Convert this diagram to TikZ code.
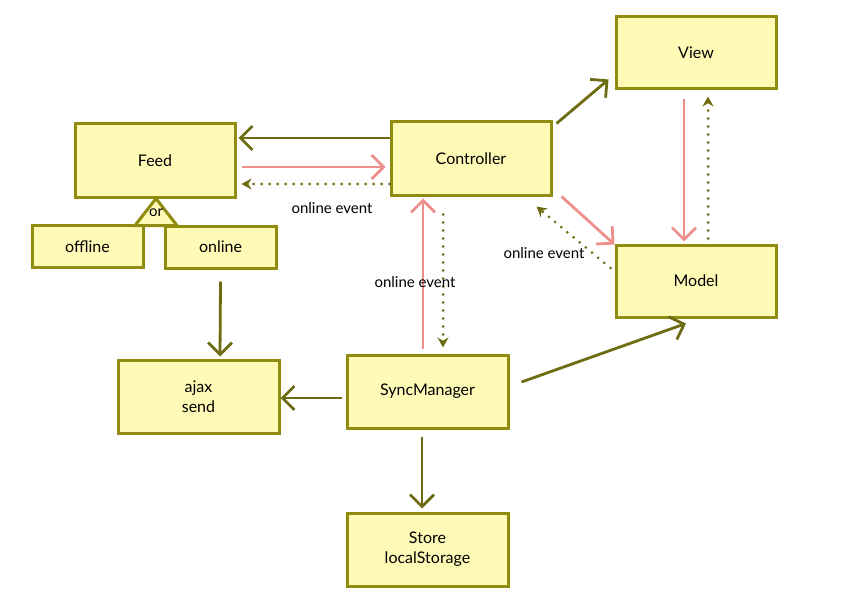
\documentclass[tikz,border=0pt]{standalone}
\usepackage{fontspec}
\setmainfont{Lato}
\usetikzlibrary{arrows.meta}
\definecolor{boxfill}{HTML}{FFFAB6}
\definecolor{boxline}{HTML}{8F8C10}
\definecolor{olivearr}{HTML}{6E6C12}
\definecolor{pinkarr}{HTML}{EE8F8C}
\begin{document}
\begin{tikzpicture}[x=1pt,y=-1pt,
  box/.style={draw=boxline, fill=boxfill, line width=3pt, minimum width=160pt, minimum height=73pt, font=\fontsize{16}{20}\selectfont, align=center, inner sep=0pt},
  smallbox/.style={box, minimum width=111pt, minimum height=42pt},
  solidarr/.style={draw=olivearr, line width=2.8pt, -{Straight Barb[length=12pt,width=24pt,line width=2.8pt]}},
  pinkline/.style={draw=pinkarr, line width=2.8pt, -{Straight Barb[length=12pt,width=24pt,line width=2.8pt]}},
  dotarr/.style={draw=olivearr, line width=3pt, line cap=round, dash pattern=on 0pt off 8pt, -{Stealth[length=10pt,width=11pt,line cap=butt]}},
  lbl/.style={font=\fontsize{15}{18}\selectfont, inner sep=1pt}
]
\useasboundingbox (0,0) rectangle (865,607);

\node[box] (feed) at (155,160.5) {Feed};
\node[smallbox] (offline) at (87.5,246.5) {offline};
\node[smallbox] (online) at (220.5,247) {online};
\node[box] (ctrl) at (471,158.5) {Controller};
\node[box, minimum height=72pt] (view) at (696,53) {View};
\node[box, minimum height=72pt] (model) at (696,281) {Model};
\node[box, minimum width=161pt] (ajax) at (198.5,396.5) {ajax\\send};
\node[box, minimum width=161pt] (sync) at (427.5,391.5) {SyncManager};
\node[box, minimum width=161pt] (store) at (427.5,549.5) {Store\\localStorage};

% "or" triangle
\draw[draw=boxline, fill=boxfill, line width=3pt, line join=miter] ([xshift=1pt]feed.south) -- ++(-21,27) -- ++(42,0) -- cycle;
\node[font=\fontsize{15}{18}\selectfont, inner sep=0pt] (or) at (156,213) {or};

% Controller <-> Feed
\draw[solidarr] ([yshift=20.5pt]ctrl.west) -- ([xshift=2pt,yshift=22.5pt]feed.east);
\draw[pinkline] ([xshift=5pt,yshift=-6.5pt]feed.east) -- ([xshift=-4pt,yshift=-8.5pt]ctrl.west);
\draw[dotarr] ([yshift=-25.5pt]ctrl.west) -- ([xshift=5pt,yshift=-23.5pt]feed.east);
\node[lbl] (lbl1) at (332,208) {online event};

% Controller -> View
\draw[solidarr] ([xshift=4pt,yshift=-3pt]ctrl.north east) -- ([xshift=-6pt,yshift=11pt]view.south west);

% View <-> Model
\draw[pinkline] ([xshift=-12pt,yshift=-9pt]view.south) -- ([xshift=-12pt,yshift=2pt]model.north);
\draw[dotarr] ([xshift=12pt,yshift=5pt]model.north) -- ([xshift=12pt,yshift=-6pt]view.south);

% Controller <-> Model
\draw[pinkline] ([xshift=9pt]ctrl.south east) -- ([yshift=-1pt]model.north west);
\draw[dotarr] ([xshift=-4pt,yshift=13pt]model.west) -- ([xshift=-16pt,yshift=-10pt]ctrl.south east);
\node[lbl] (lbl2) at (544,253) {online event};

% SyncManager <-> Controller
\draw[pinkline] ([xshift=-4.5pt,yshift=5pt]sync.north) -- ([xshift=-48pt,yshift=-2pt]ctrl.south);
\draw[dotarr] ([xshift=-28pt,yshift=-18pt]ctrl.south) -- ([xshift=15.5pt,yshift=6pt]sync.north);
\node[lbl] (lbl3) at (415,282) {online event};

% online -> ajax
\draw[solidarr] ([yshift=-12pt]online.south) -- ([xshift=21.5pt,yshift=2pt]ajax.north);
% SyncManager -> ajax
\draw[solidarr] ([xshift=-4pt,yshift=-6.5pt]sync.west) -- ([xshift=0pt,yshift=-1.5pt]ajax.east);
% SyncManager -> Store
\draw[solidarr] ([xshift=-5.5pt,yshift=-7pt]sync.south) -- ([xshift=-5.5pt,yshift=3pt]store.north);
% SyncManager -> Model
\draw[solidarr] ([xshift=12pt,yshift=9.5pt]sync.east) -- ([xshift=-10pt,yshift=-5pt]model.south);
\end{tikzpicture}
\end{document}
